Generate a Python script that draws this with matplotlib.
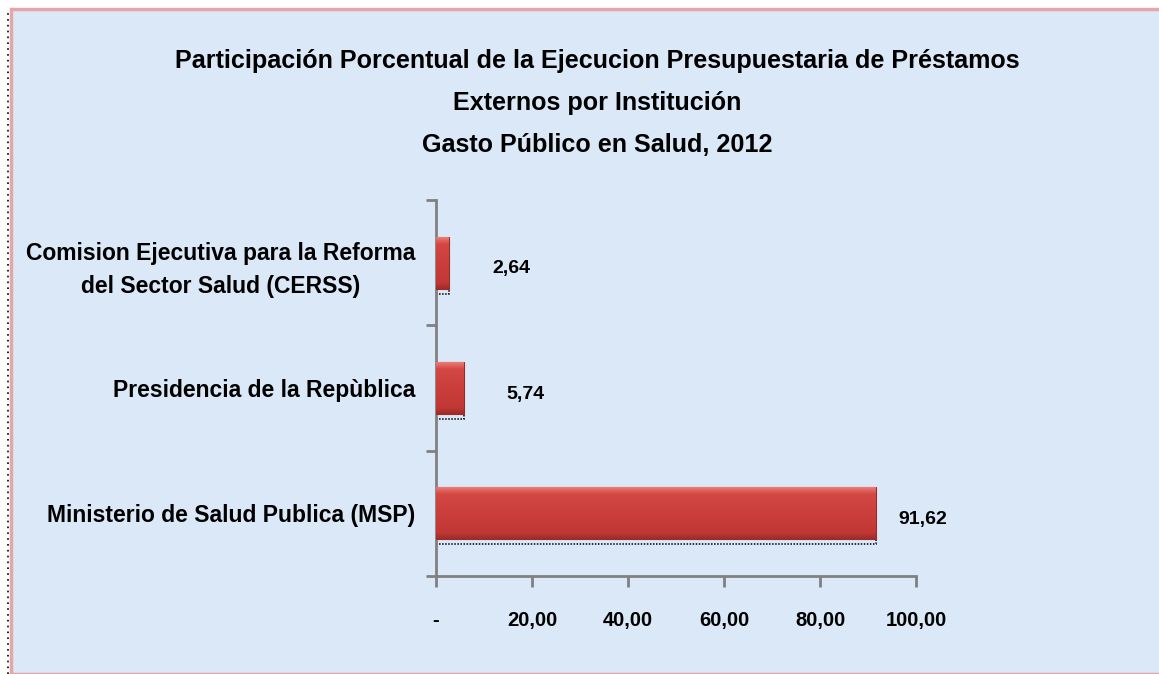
import matplotlib
matplotlib.use("Agg")
import matplotlib.pyplot as plt
import numpy as np
from matplotlib.patches import Rectangle
from matplotlib.lines import Line2D
import matplotlib.transforms as mtransforms
from matplotlib.colors import LinearSegmentedColormap

# ---- data ----
categories = ["Ministerio de Salud Publica (MSP)",
              "Presidencia de la Repùblica",
              "Comision Ejecutiva para la Reforma\ndel Sector Salud (CERSS)"]
values = [91.62, 5.74, 2.64]
value_labels = ["91,62", "5,74", "2,64"]
xticks = [0, 20, 40, 60, 80, 100]
xtick_labels = ["-", "20,00", "40,00", "60,00", "80,00", "100,00"]
title = ("Participación Porcentual de la Ejecucion Presupuestaria de Préstamos\n"
         "Externos por Institución\nGasto Público en Salud, 2012")

# ---- style ----
FONT = ["Liberation Sans Narrow", "Liberation Sans", "DejaVu Sans"]
plt.rcParams['font.family'] = FONT
BG = "#dbe8f7"
label_dx_px = [23, 43, 44]

W, H = 1159, 674
fig = plt.figure(figsize=(W / 100, H / 100), dpi=100)
fig.patch.set_facecolor("white")

# chart-area background with pink border
fig.patches.append(Rectangle((11 / W, 0), 1.2, 1 - 9 / H, transform=fig.transFigure,
                             facecolor=BG, edgecolor="#e4a6a6", linewidth=2.5, zorder=-5))
fig.lines.append(Line2D([8 / W, 8 / W], [0, 1 - 12 / H], transform=fig.transFigure,
                        color="black", linestyle=(0, (1, 2.5)), linewidth=1.2, zorder=-4))

ax = fig.add_axes([436 / W, 1 - 576 / H, 480 / W, 376 / H])
ax.set_zorder(1)
ax.set_facecolor("none")
ax.set_xlim(0, 100)
ax.set_ylim(-0.5, 2.5)

ypos = np.arange(len(values))
bh = 0.415

# dotted shadow
shadow_dy = 5 / 125.3
ax.barh(ypos - shadow_dy, values, height=bh, left=0.0, facecolor="none",
        edgecolor="black", linestyle=(0, (1, 1)), linewidth=1.1, zorder=2)

bars = ax.barh(ypos, values, height=bh, color="#c93d3a", edgecolor="#9c2a28",
               linewidth=0.8, zorder=3)

cmap = LinearSegmentedColormap.from_list(
    "barg", [(0.0, "#9e2c2a"), (0.12, "#c03835"), (0.5, "#cb3e3b"),
             (0.85, "#d44844"), (1.0, "#f0847e")])
grad = np.linspace(0, 1, 256).reshape(-1, 1)
for b in bars:
    x0, y0 = b.get_x(), b.get_y()
    w, h = b.get_width(), b.get_height()
    im = ax.imshow(grad, extent=[x0, x0 + w, y0, y0 + h], origin="lower",
                   cmap=cmap, aspect="auto", zorder=4, interpolation="bilinear")
    im.set_clip_path(b)
ax.set_xlim(0, 100)
ax.set_ylim(-0.5, 2.5)

for b, v, lab, dx in zip(bars, values, value_labels, label_dx_px):
    trans = mtransforms.offset_copy(ax.transData, fig=fig, x=dx, y=-6, units="dots")
    ax.text(v, b.get_y() + b.get_height() / 2, lab, transform=trans,
            ha="left", va="center", fontsize=14, fontweight="bold", color="black")

# axes styling
for s in ["top", "right"]:
    ax.spines[s].set_visible(False)
for s in ["left", "bottom"]:
    ax.spines[s].set_color("#808080")
    ax.spines[s].set_linewidth(2)

ax.set_xticks(xticks)
ax.set_xticklabels(xtick_labels, fontsize=14.5, fontweight="bold")
ax.tick_params(axis="x", length=8, width=2, color="#808080", pad=17)

ax.set_yticks(ypos)
ax.set_yticklabels(categories, fontsize=16.5, fontweight="bold",
                   multialignment="center", linespacing=1.55)
ax.tick_params(axis="y", which="major", length=0, pad=15)
ax.set_yticks(np.arange(-0.5, 2.6, 1.0), minor=True)
ax.tick_params(axis="y", which="minor", length=7, width=2, color="#808080")

fig.text(597 / W, 1 - 49 / H, title, ha="center", va="top", fontsize=18.1,
         fontweight="bold", linespacing=1.95)

fig.savefig("out.png", dpi=100, facecolor=fig.get_facecolor())
